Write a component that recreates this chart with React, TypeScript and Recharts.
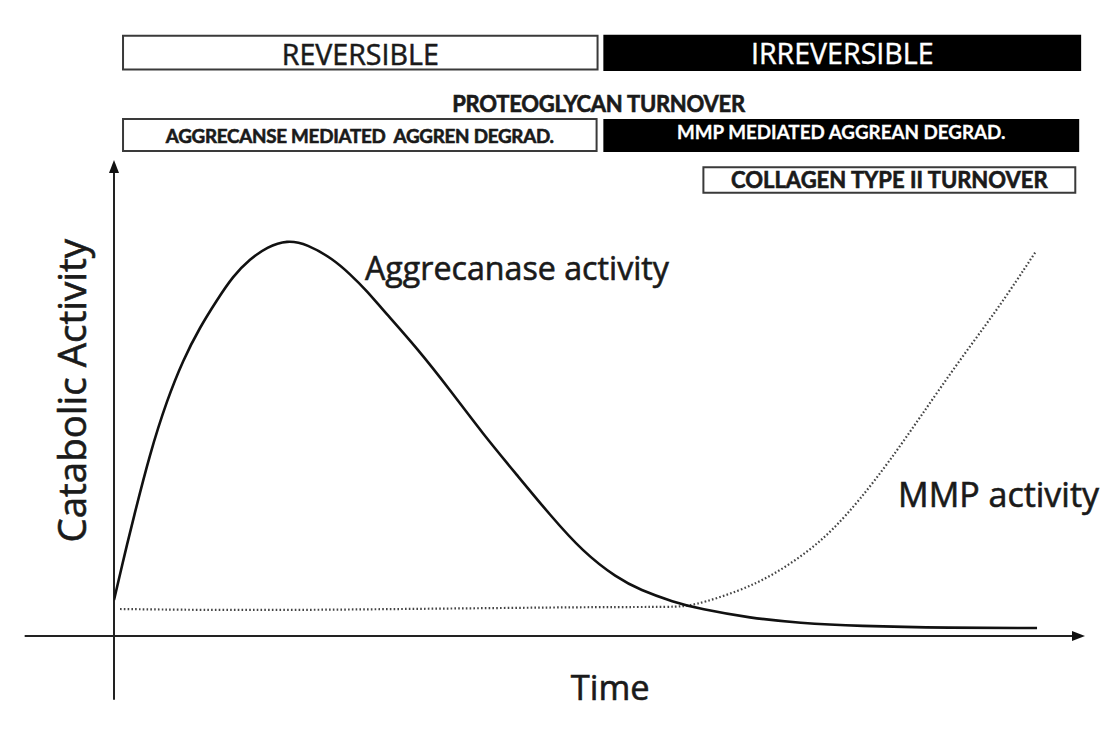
import React from 'react';
import { LineChart, Line, XAxis, YAxis, ReferenceLine, ReferenceArea, ReferenceDot } from 'recharts';

const FONT = '"Open Sans", Lato, "DejaVu Sans", sans-serif';
const BOLD_FONT = 'Lato, "Open Sans", "DejaVu Sans", sans-serif';

// Time (arbitrary units 0-100) and catabolic activity (arbitrary units 0-100)
const aggTime = [0, 1.13, 1.96, 3.71, 5.46, 7.11, 8.86, 10.61, 12.26, 14.01, 15.76, 17.82, 19.88, 22.55, 24.3, 26.06, 27.7, 31.2, 34.6, 38.0, 41.5, 44.9, 48.3, 51.8, 54.2, 57.6, 60.35, 65.5, 70.6, 76.5, 86.1, 95.06];
const aggActivity = [7.56, 17.44, 24.37, 38.45, 49.58, 57.98, 64.92, 70.59, 75.63, 79.2, 81.72, 83.19, 82.35, 79.2, 76.05, 72.48, 68.49, 60.5, 51.7, 42.44, 33.82, 25.42, 17.65, 12.18, 9.66, 7.14, 5.67, 3.78, 2.73, 2.1, 1.68, 1.68];

const mmpTime = [0.62, 8.86, 19.2, 29.5, 39.8, 50.1, 57.6, 59.6, 64.5, 67.9, 71.4, 74.0, 76.8, 79.9, 83.0, 87.1, 91.2, 94.9];
const mmpActivity = [5.67, 5.46, 5.46, 5.67, 5.88, 6.09, 6.09, 6.3, 9.5, 12.8, 17.6, 22.2, 28.6, 36.8, 45.9, 58.0, 69.2, 80.67];

const seriesNames = ['Aggrecanase activity', 'MMP activity'];
const axisTitles = ['Time', 'Catabolic Activity'];
const boxLabels = ['REVERSIBLE', 'IRREVERSIBLE', 'AGGRECANSE MEDIATED  AGGREN DEGRAD.', 'MMP MEDIATED AGGREAN DEGRAD.', 'COLLAGEN TYPE II TURNOVER'];
const headerLabel = 'PROTEOGLYCAN TURNOVER';

const aggData = aggTime.map((t, i) => ({ t, v: aggActivity[i] }));
const mmpData = mmpTime.map((t, i) => ({ t, v: mmpActivity[i] }));

// layout of annotation boxes (in axis units)
const boxLayout = [
  { x1: 0.93, x2: 49.8, y1: 119.0, y2: 126.1, dark: false, font: FONT, fs: 28.6, fw: 400, ls: 0, dy: 12.5, sw: 0.5 },
  { x1: 50.5, x2: 99.5, y1: 118.9, y2: 126.1, dark: true, font: FONT, fs: 28.6, fw: 400, ls: 0, dy: 11.5, sw: 0.4 },
  { x1: 0.93, x2: 49.7, y1: 101.9, y2: 108.6, dark: false, font: BOLD_FONT, fs: 18.8, fw: 700, ls: -0.25, dy: 8, sw: 0.6 },
  { x1: 50.5, x2: 99.3, y1: 101.9, y2: 108.4, dark: true, font: BOLD_FONT, fs: 18.8, fw: 700, ls: 0, dy: 3.5, sw: 0.3 },
  { x1: 60.7, x2: 99.0, y1: 93.1, y2: 98.5, dark: false, font: BOLD_FONT, fs: 22, fw: 700, ls: 0, dy: 8, sw: 0.6 },
];

const ArrowLine = (props: any) => {
  const { x1, y1, x2, y2 } = props;
  const ang = Math.atan2(y2 - y1, x2 - x1);
  const len = 13;
  const half = 5;
  const bx = x2 - len * Math.cos(ang);
  const by = y2 - len * Math.sin(ang);
  const px = -Math.sin(ang) * half;
  const py = Math.cos(ang) * half;
  return (
    <g>
      <line x1={x1} y1={y1} x2={bx + Math.cos(ang) * 2} y2={by + Math.sin(ang) * 2} stroke="#222" strokeWidth={2} />
      <polygon points={`${x2},${y2} ${bx + px},${by + py} ${bx - px},${by - py}`} fill="#111" />
    </g>
  );
};

const makeBoxLabel = (text: string, b: any) => (props: any) => {
  const vb = props.viewBox || {};
  const cx = vb.x + vb.width / 2;
  const cy = vb.y + vb.height / 2;
  const color = b.dark ? '#ffffff' : '#1a1a1a';
  return (
    <text
      x={cx}
      y={cy + b.dy}
      textAnchor="middle"
      fill={color}
      stroke={b.sw ? color : 'none'}
      strokeWidth={b.sw}
      style={{ fontFamily: b.font, fontSize: b.fs, fontWeight: b.fw, letterSpacing: b.ls, whiteSpace: 'pre' }}
    >
      {text}
    </text>
  );
};

const makeFreeLabel = (text: string, font: string, fs: number, fw: number, ls: number, sw: number, rotate?: boolean) => (props: any) => {
  const vb = props.viewBox || {};
  const x = vb.x + (vb.width || 0) / 2;
  const y = vb.y + (vb.height || 0) / 2;
  return (
    <text
      x={x}
      y={y}
      textAnchor="middle"
      fill="#1a1a1a"
      stroke={sw ? '#1a1a1a' : 'none'}
      strokeWidth={sw}
      transform={rotate ? `rotate(-90 ${x} ${y})` : undefined}
      style={{ fontFamily: font, fontSize: fs, fontWeight: fw, letterSpacing: ls }}
    >
      {text}
    </text>
  );
};

export default function App() {
  return (
    <div style={{ width: 1102, height: 716, background: '#fff' }}>
      <LineChart
        width={1102}
        height={716}
        margin={{ top: 152, right: 25, bottom: 88, left: 106 }}
      >
        <XAxis type="number" dataKey="t" domain={[0, 100]} hide allowDataOverflow />
        <YAxis type="number" dataKey="v" domain={[0, 100]} hide allowDataOverflow />

        {boxLayout.map((b, i) => (
          <ReferenceArea
            key={'box' + i}
            x1={b.x1}
            x2={b.x2}
            y1={b.y1}
            y2={b.y2}
            ifOverflow="visible"
            fill={b.dark ? '#000000' : '#ffffff'}
            fillOpacity={1}
            stroke={b.dark ? '#000000' : '#3a3a3a'}
            strokeWidth={2}
            label={{ content: makeBoxLabel(boxLabels[i], b) }}
          />
        ))}

        <ReferenceDot x={49.9} y={110.1} r={0} ifOverflow="visible" fill="none" stroke="none"
          label={{ content: makeFreeLabel(headerLabel, BOLD_FONT, 22, 700, -0.26, 0.6) }} />
        <ReferenceDot x={41.5} y={74.8} r={0} ifOverflow="visible" fill="none" stroke="none"
          label={{ content: makeFreeLabel(seriesNames[0], FONT, 32.2, 400, 0, 0.6) }} />
        <ReferenceDot x={91.1} y={27.1} r={0} ifOverflow="visible" fill="none" stroke="none"
          label={{ content: makeFreeLabel(seriesNames[1], FONT, 34, 400, 0, 0.6) }} />
        <ReferenceDot x={51.1} y={-13.4} r={0} ifOverflow="visible" fill="none" stroke="none"
          label={{ content: makeFreeLabel(axisTitles[0], FONT, 34.4, 400, 0, 0.6) }} />
        <ReferenceDot x={-2.9} y={51.5} r={0} ifOverflow="visible" fill="none" stroke="none"
          label={{ content: makeFreeLabel(axisTitles[1], FONT, 38.5, 400, 0, 0.6, true) }} />

        <ReferenceLine segment={[{ x: -9.2, y: 0 }, { x: 100, y: 0 }]} ifOverflow="visible" shape={ArrowLine} />
        <ReferenceLine segment={[{ x: 0, y: -13.4 }, { x: 0, y: 100 }]} ifOverflow="visible" shape={ArrowLine} />

        <Line
          data={mmpData}
          dataKey="v"
          type="basis"
          stroke="#444444"
          strokeWidth={2.2}
          strokeDasharray="1.6 2.2"
          dot={false}
          activeDot={false}
          isAnimationActive={false}
          name={seriesNames[1]}
        />
        <Line
          data={aggData}
          dataKey="v"
          type="basis"
          stroke="#111111"
          strokeWidth={2.6}
          dot={false}
          activeDot={false}
          isAnimationActive={false}
          name={seriesNames[0]}
        />
      </LineChart>
    </div>
  );
}
